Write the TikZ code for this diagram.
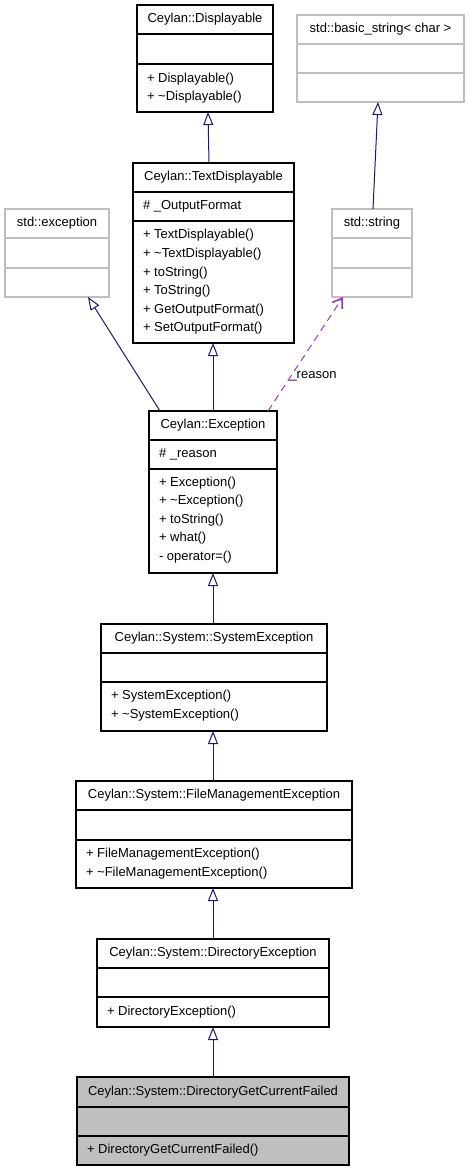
\documentclass[tikz,border=0pt]{standalone}
\usepackage{fontspec}
\setmainfont{Liberation Sans}
\usetikzlibrary{arrows.meta}
\definecolor{navy}{HTML}{191970}
\definecolor{usecol}{HTML}{9A32CD}
\definecolor{grey75}{HTML}{BFBFBF}
\newcommand\classbox[9]{%
  \node[#2, anchor=north west, minimum width={(#5-#3)*1pt}, minimum height={(#6-#4)*1pt}] (#1) at (#3,#4) {};
  \draw[#2, fill=none] (#3,#7) -- (#5,#7) (#3,#8) -- (#5,#8);
  \node[titletext] (#1-title) at ({(#3+#5)/2},{(#4+#7)/2}) {#9};
}
\begin{document}
\begin{tikzpicture}[x=1pt,y=-1pt,
  every node/.style={font=\fontsize{13}{18.6}\selectfont, inner sep=0pt, outer sep=0pt},
  ceylan/.style={draw=black, line width=1.2pt, rectangle},
  stdcls/.style={draw=grey75, line width=1.2pt, rectangle},
  current/.style={draw=black, fill=grey75, line width=1.2pt, rectangle},
  titletext/.style={anchor=center},
  member/.style={anchor=west, align=left},
  inherit/.style={draw=navy, line width=1pt, -{Triangle[open, length=13pt, width=10pt]}},
  usage/.style={draw=usecol, line width=1pt, dash pattern=on 7pt off 5pt, -{Straight Barb[length=9pt, width=12pt, line width=1.6pt]}},
  lbl/.style={anchor=center}]
\path[fill=white] (0,0) rectangle (468,1171);

\classbox{disp}{ceylan}{137}{5}{273}{112}{34}{64}{Ceylan::Displayable}
\node[member] (disp-m) at (147,88) {+ Displayable()\\+ \textasciitilde Displayable()};

\classbox{bstr}{stdcls}{297}{15}{464}{102}{44}{73}{std::basic\_string< char >}

\classbox{td}{ceylan}{133}{163}{294}{343}{192}{221}{Ceylan::TextDisplayable}
\node[member] (td-a) at (143,206.5) {\# \_OutputFormat};
\node[member] (td-m) at (143,282) {+ TextDisplayable()\\+ \textasciitilde TextDisplayable()\\+ toString()\\+ ToString()\\+ GetOutputFormat()\\+ SetOutputFormat()};

\classbox{stdexc}{stdcls}{5}{209}{109}{297}{238}{268}{std::exception}

\classbox{str}{stdcls}{332}{209}{412}{297}{238}{268}{std::string}

\classbox{exc}{ceylan}{149}{411}{277}{573}{440}{469}{Ceylan::Exception}
\node[member] (exc-a) at (159,454.5) {\# \_reason};
\node[member] (exc-m) at (159,520) {+ Exception()\\+ \textasciitilde Exception()\\+ toString()\\+ what()\\- operator=()};

\classbox{sysexc}{ceylan}{101}{624}{327}{731}{653}{682}{Ceylan::System::SystemException}
\node[member] (sysexc-m) at (111,705.5) {+ SystemException()\\+ \textasciitilde SystemException()};

\classbox{fme}{ceylan}{76}{781}{352}{888}{810}{840}{Ceylan::System::FileManagementException}
\node[member] (fme-m) at (86,863.5) {+ FileManagementException()\\+ \textasciitilde FileManagementException()};

\classbox{dire}{ceylan}{97}{939}{329}{1027}{968}{997}{Ceylan::System::DirectoryException}
\node[member] (dire-m) at (107,1012) {+ DirectoryException()};

\classbox{dgcf}{current}{77}{1077}{349}{1165}{1107}{1136}{Ceylan::System::DirectoryGetCurrentFailed}
\node[member] (dgcf-m) at (87,1150.5) {+ DirectoryGetCurrentFailed()};

% connectors
\draw[inherit] ([xshift=76pt]td.north west) -- ([xshift=71pt]disp.south west);
\draw[inherit] ([xshift=41pt]str.north west) -- ([xshift=81pt]bstr.south west);
\draw[inherit] ([xshift=11pt]exc.north west) -- ([xshift=83pt]stdexc.south west);
\draw[inherit] ([xshift=64pt]exc.north west) -- ([xshift=80pt]td.south west);
\draw[usage] ([xshift=119pt]exc.north west) -- ([xshift=11pt]str.south west);
\node[lbl] (reason) at (313,376) {\_reason};
\draw[inherit] ([xshift=112pt]sysexc.north west) -- ([xshift=64pt]exc.south west);
\draw[inherit] ([xshift=137pt]fme.north west) -- ([xshift=112pt]sysexc.south west);
\draw[inherit] ([xshift=116pt]dire.north west) -- ([xshift=137pt]fme.south west);
\draw[inherit] ([xshift=136pt]dgcf.north west) -- ([xshift=116pt]dire.south west);
\end{tikzpicture}
\end{document}
